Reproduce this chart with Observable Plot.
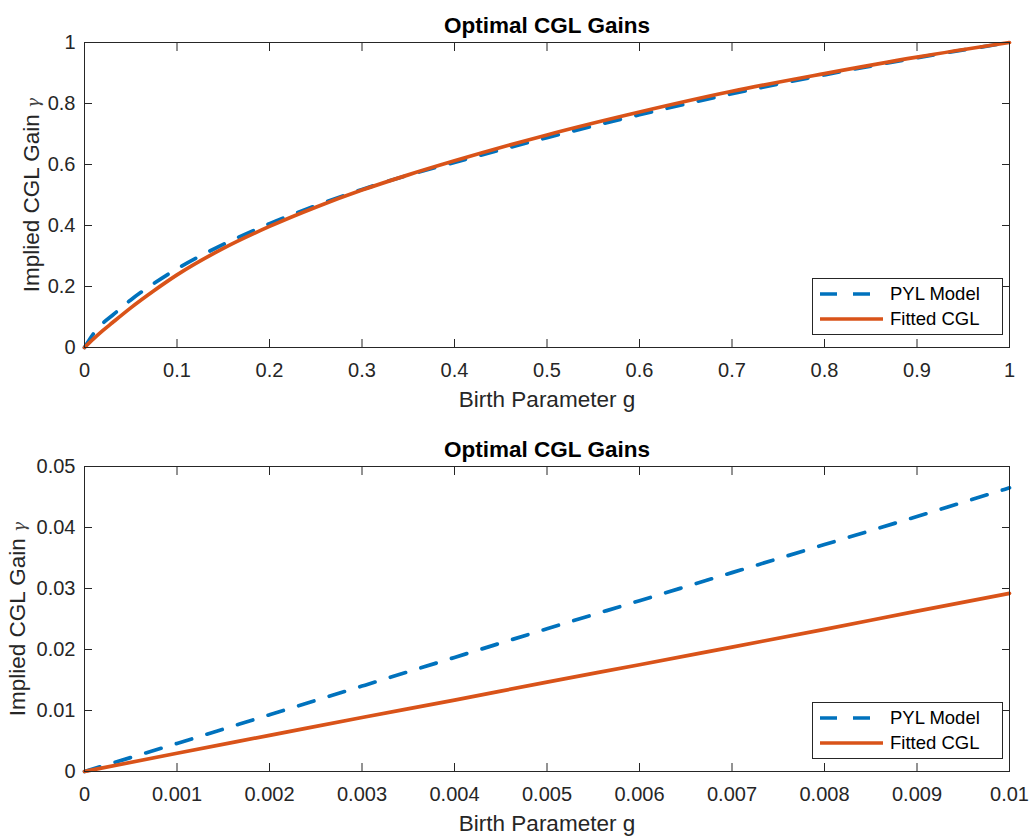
<!DOCTYPE html>
<html>
<head>
<meta charset="utf-8">
<script src="https://cdn.jsdelivr.net/npm/d3@7"></script>
<script src="https://cdn.jsdelivr.net/npm/@observablehq/plot@0.6"></script>
<style>
  html, body { margin: 0; padding: 0; background: #ffffff; }
  #chart svg { display: block; }
</style>
</head>
<body>
<div id="chart"></div>
<script>
// ---- data ----
const titleText = "Optimal CGL Gains";
const xLabelText = "Birth Parameter g";
const yLabelText = "Implied CGL Gain ";
const yLabelGreek = "γ";
const seriesNames = ["PYL Model", "Fitted CGL"];
const seriesColors = ["#0072BD", "#D95319"];

// top panel: g in [0, 1]
const gTop   = [0, 0.01, 0.02, 0.03, 0.05, 0.075, 0.1, 0.15, 0.2, 0.25, 0.3, 0.35, 0.4, 0.5, 0.6, 0.7, 0.8, 0.9, 1.0];
const pylTop = [0, 0.0465, 0.080, 0.105, 0.156, 0.210, 0.258, 0.338, 0.406, 0.465, 0.518, 0.565, 0.607, 0.688, 0.763, 0.832, 0.894, 0.950, 1.0];
const cglTop = [0, 0.029, 0.056, 0.081, 0.130, 0.186, 0.238, 0.325, 0.397, 0.460, 0.516, 0.566, 0.612, 0.697, 0.772, 0.840, 0.898, 0.952, 1.0];
const xTicksTop = [0, 0.1, 0.2, 0.3, 0.4, 0.5, 0.6, 0.7, 0.8, 0.9, 1];
const yTicksTop = [0, 0.2, 0.4, 0.6, 0.8, 1];

// bottom panel: g in [0, 0.01]
const gBot   = [0, 0.001, 0.002, 0.003, 0.004, 0.005, 0.006, 0.007, 0.008, 0.009, 0.01];
const pylBot = [0, 0.0046, 0.0093, 0.0140, 0.0187, 0.0234, 0.0280, 0.0326, 0.0372, 0.0418, 0.0465];
const cglBot = [0, 0.0030, 0.00592, 0.00885, 0.0117, 0.01465, 0.0175, 0.0204, 0.0233, 0.0263, 0.0292];
const xTicksBot = [0, 0.001, 0.002, 0.003, 0.004, 0.005, 0.006, 0.007, 0.008, 0.009, 0.01];
const yTicksBot = [0, 0.01, 0.02, 0.03, 0.04, 0.05];

const FONT = "'Liberation Sans', Arial, Helvetica, sans-serif";
const INK = "#262626";

function panel({g, pyl, cgl, xTicks, yTicks, height, marginBottom, yLabelDx}) {
  const rows = [];
  g.forEach((x, i) => rows.push({g: x, v: pyl[i], s: seriesNames[0]}));
  g.forEach((x, i) => rows.push({g: x, v: cgl[i], s: seriesNames[1]}));
  const fmt = d => String(d);
  const plot = Plot.plot({
    width: 1034,
    height,
    marginLeft: 84,
    marginRight: 25,
    marginTop: 42,
    marginBottom,
    style: {fontFamily: FONT, color: INK, background: "#ffffff", overflow: "visible"},
    x: {domain: [xTicks[0], xTicks[xTicks.length - 1]]},
    y: {domain: [yTicks[0], yTicks[yTicks.length - 1]]},
    marks: [
      Plot.line(rows.filter(d => d.s === seriesNames[0]), {
        x: "g", y: "v", stroke: seriesColors[0], strokeWidth: 3.7,
        strokeDasharray: "16,16", curve: "monotone-x"
      }),
      Plot.line(rows.filter(d => d.s === seriesNames[1]), {
        x: "g", y: "v", stroke: seriesColors[1], strokeWidth: 3.7, curve: "monotone-x"
      }),
      Plot.frame({stroke: INK, strokeWidth: 1}),
      Plot.axisX(xTicks, {anchor: "bottom", tickSize: -8, fill: "none", label: null, stroke: INK}),
      Plot.axisX(xTicks, {anchor: "top", tickSize: -8, fill: "none", label: null, stroke: INK}),
      Plot.axisY(yTicks, {anchor: "left", tickSize: -8, fill: "none", label: null, stroke: INK}),
      Plot.axisY(yTicks, {anchor: "right", tickSize: -8, fill: "none", label: null, stroke: INK}),
      Plot.axisX(xTicks, {anchor: "bottom", tickSize: 0, tickPadding: 15, fontSize: 20, label: null, tickFormat: fmt, fill: INK}),
      Plot.axisY(yTicks, {anchor: "left", tickSize: 0, tickPadding: 9, fontSize: 20, label: null, tickFormat: fmt, fill: INK}),
      Plot.text([titleText], {text: d => d, frameAnchor: "top", dy: -10, lineAnchor: "bottom",
        textAnchor: "middle", fontWeight: "bold", fontSize: 22.5, fill: "#000000"}),
      Plot.text([xLabelText], {text: d => d, frameAnchor: "bottom", dy: 59, lineAnchor: "bottom",
        textAnchor: "middle", fontSize: 22.5, fill: INK}),
      Plot.text([yLabelText + yLabelGreek], {text: d => d, frameAnchor: "left", dx: yLabelDx, rotate: -90,
        textAnchor: "middle", lineAnchor: "middle", fontSize: 22.5, fill: INK})
    ]
  });

  // y label: smaller TeX-like gamma
  const svg = d3.select(plot);
  svg.selectAll("text").filter(function () {
    return this.textContent === yLabelText + yLabelGreek;
  }).each(function () {
    const t = d3.select(this);
    t.text(null).style("white-space", "pre");
    t.append("tspan").text(yLabelText);
    t.append("tspan").text(yLabelGreek).attr("font-size", 17).attr("font-family", "'DejaVu Serif', serif")
      .attr("font-style", "italic").attr("fill", "#444");
  });

  // legend box (bottom-right, inside the axes)
  const xr = plot.scale("x").range;
  const yr = plot.scale("y").range;
  const right = Math.max(xr[0], xr[1]) - 7;
  const bottom = Math.max(yr[0], yr[1]) - 13;
  const bw = 190, bh = 56;
  const lg = svg.append("g").attr("font-family", FONT).attr("font-size", 18.5).attr("text-anchor", "start");
  lg.append("rect").attr("x", right - bw + 0.5).attr("y", bottom - bh + 0.5)
    .attr("width", bw).attr("height", bh).attr("fill", "#ffffff").attr("stroke", INK).attr("stroke-width", 1);
  seriesNames.forEach((name, i) => {
    const cy = bottom - bh + 16 + i * 25;
    lg.append("line").attr("x1", right - bw + 8).attr("x2", right - bw + 71)
      .attr("y1", cy).attr("y2", cy).attr("stroke", seriesColors[i]).attr("stroke-width", 3.7)
      .attr("stroke-dasharray", i === 0 ? "17,16" : null);
    lg.append("text").attr("x", right - bw + 78).attr("y", cy).attr("dy", "0.35em")
      .attr("text-anchor", "start").attr("fill", "#000000").text(name);
  });
  return plot;
}

const root = document.getElementById("chart");
root.appendChild(panel({g: gTop, pyl: pylTop, cgl: cglTop, xTicks: xTicksTop, yTicks: yTicksTop, height: 424, marginBottom: 77, yLabelDx: -53}));
root.appendChild(panel({g: gBot, pyl: pylBot, cgl: cglBot, xTicks: xTicksBot, yTicks: yTicksBot, height: 414, marginBottom: 67, yLabelDx: -67}));
</script>
</body>
</html>
